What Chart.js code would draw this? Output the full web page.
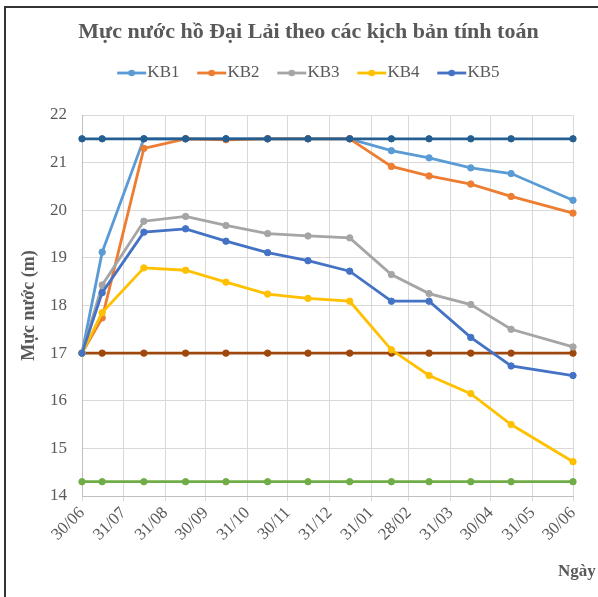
<!DOCTYPE html>
<html>
<head>
<meta charset="utf-8">
<script src="https://cdn.jsdelivr.net/npm/chart.js@4.4.1/dist/chart.umd.min.js"></script>
<style>
html,body{margin:0;padding:0;overflow:hidden;background:#fff;width:598px;height:597px;}
#frame{position:absolute;left:4px;top:6px;width:700px;height:700px;border:2px solid #333;box-sizing:border-box;}
#wrap{position:absolute;left:0;top:0;width:640px;height:620px;}
</style>
</head>
<body>
<div id="frame"></div>
<div id="wrap"><canvas id="c" width="640" height="620"></canvas></div>
<script>
// ---------- data ----------
const startDate = '2018-06-30';
const tickDates = ['2018-06-30','2018-07-31','2018-08-31','2018-09-30','2018-10-31','2018-11-30','2018-12-31','2019-01-31','2019-02-28','2019-03-31','2019-04-30','2019-05-31','2019-06-30'];
const tickLabels = ['30/06','31/07','31/08','30/09','31/10','30/11','31/12','31/01','28/02','31/03','30/04','31/05','30/06'];
const pointDates = ['2018-06-30','2018-07-15','2018-08-15','2018-09-15','2018-10-15','2018-11-15','2018-12-15','2019-01-15','2019-02-15','2019-03-15','2019-04-15','2019-05-15','2019-06-30'];
const seriesNames = ['KB1','KB2','KB3','KB4','KB5'];
const kb1 = [17, 19.12, 21.5, 21.5, 21.5, 21.5, 21.5, 21.5, 21.25, 21.1, 20.89, 20.77, 20.21];
const kb2 = [17, 17.74, 21.3, 21.5, 21.48, 21.5, 21.5, 21.5, 20.92, 20.72, 20.55, 20.29, 19.94];
const kb3 = [17, 18.43, 19.77, 19.87, 19.68, 19.51, 19.46, 19.42, 18.65, 18.25, 18.02, 17.5, 17.13];
const kb4 = [17, 17.85, 18.79, 18.74, 18.49, 18.24, 18.15, 18.09, 17.07, 16.53, 16.15, 15.5, 14.72];
const kb5 = [17, 18.27, 19.54, 19.61, 19.35, 19.11, 18.94, 18.72, 18.09, 18.09, 17.33, 16.73, 16.53];
const level215 = [21.5, 21.5, 21.5, 21.5, 21.5, 21.5, 21.5, 21.5, 21.5, 21.5, 21.5, 21.5, 21.5];
const level17 = [17, 17, 17, 17, 17, 17, 17, 17, 17, 17, 17, 17, 17];
const level143 = [14.3, 14.3, 14.3, 14.3, 14.3, 14.3, 14.3, 14.3, 14.3, 14.3, 14.3, 14.3, 14.3];
const yTicksMin = 14, yTicksMax = 22;

// ---------- styling ----------
const kbColors = ['#5B9BD5', '#ED7D31', '#A5A5A5', '#FFC000', '#4472C4'];
const FONT = '"Liberation Serif", "Times New Roman", serif';
const TXT = '#595959';

const dayOf = d => Math.round((Date.parse(d) - Date.parse(startDate)) / 86400000);
const tickDays = tickDates.map(dayOf);
const pts = vals => vals.map((v, i) => ({x: dayOf(pointDates[i]), y: v}));

function ds(label, vals, color, order) {
  return {
    label, data: pts(vals), borderColor: color, backgroundColor: color,
    borderWidth: 2.8, pointRadius: 3.2, pointBorderWidth: 1, pointBackgroundColor: color,
    pointBorderColor: color, tension: 0, order, clip: false
  };
}

function legendSymbol(color) {
  const c = document.createElement('canvas');
  c.width = 38; c.height = 10;
  const g = c.getContext('2d');
  g.strokeStyle = color; g.lineWidth = 2.8;
  g.beginPath(); g.moveTo(8, 5); g.lineTo(37, 5); g.stroke();
  g.fillStyle = color;
  g.beginPath(); g.arc(22.5, 5, 3.3, 0, Math.PI * 2); g.fill();
  return c;
}

const datasets = [
  ds(seriesNames[0], kb1, kbColors[0], 5),
  ds(seriesNames[1], kb2, kbColors[1], 4),
  ds(seriesNames[2], kb3, kbColors[2], 3),
  ds(seriesNames[3], kb4, kbColors[3], 2),
  ds(seriesNames[4], kb5, kbColors[4], 1),
  ds('21,5 m', level215, '#255E91', 0),
  ds('17 m', level17, '#9E480E', 7),
  ds('14,3 m', level143, '#70AD47', 6)
];

const xTitle = {
  id: 'xTitle',
  afterDraw(chart) {
    const {ctx, chartArea} = chart;
    ctx.save();
    ctx.font = 'bold 17px ' + FONT;
    ctx.fillStyle = TXT;
    ctx.textAlign = 'left';
    ctx.textBaseline = 'middle';
    ctx.fillText('Ngày', chartArea.right - 15, chartArea.bottom + 76);
    ctx.restore();
  }
};

new Chart(document.getElementById('c'), {
  type: 'line',
  data: {datasets},
  plugins: [xTitle],
  options: {
    responsive: false, animation: false, devicePixelRatio: 1,
    layout: {padding: {top: 0, left: 15, right: 38, bottom: 44}},
    plugins: {
      tooltip: {enabled: false},
      title: {
        display: true, text: 'Mực nước hồ Đại Lải theo các kịch bản tính toán',
        color: TXT, font: {family: FONT, size: 22, weight: 'bold'},
        padding: {top: 19, bottom: 1.1}
      },
      subtitle: {display: true, text: '', weight: 500, font: {size: 1}, padding: {top: 22.3, bottom: 0}},
      legend: {
        display: true, position: 'top',
        labels: {
          usePointStyle: true, pointStyleWidth: 21.4, padding: 18,
          color: TXT, font: {family: FONT, size: 17},
          generateLabels: () => seriesNames.map((n, i) => ({
            text: n, fillStyle: kbColors[i], strokeStyle: kbColors[i], lineWidth: 0,
            pointStyle: legendSymbol(kbColors[i]), datasetIndex: i, hidden: false, fontColor: TXT
          }))
        }
      }
    },
    scales: {
      x: {
        type: 'linear', min: tickDays[0], max: tickDays[tickDays.length - 1],
        afterBuildTicks: s => { s.ticks = tickDays.map(v => ({value: v})); },
        afterFit: s => { s.height = 80; },
        ticks: {
          autoSkip: false, maxRotation: 45, minRotation: 45, padding: 2,
          color: TXT, font: {family: FONT, size: 17},
          callback: (v, i) => tickLabels[i]
        },
        grid: {color: '#D9D9D9', lineWidth: 1, drawTicks: true, tickLength: 5},
        border: {color: '#BFBFBF', width: 1}
      },
      y: {
        min: yTicksMin, max: yTicksMax,
        afterFit: s => { s.width = 67; },
        ticks: {stepSize: 1, padding: 15, color: TXT, font: {family: FONT, size: 17}},
        grid: {color: '#D9D9D9', lineWidth: 1, drawTicks: false},
        border: {color: '#BFBFBF', width: 1},
        title: {display: true, text: 'Mực nước (m)', color: TXT, font: {family: FONT, size: 18, weight: 'bold'}}
      },
      yRight: {
        position: 'right', display: true, min: yTicksMin, max: yTicksMax,
        afterFit: s => { s.width = 29; },
        ticks: {display: false}, grid: {display: false, drawTicks: false}, border: {display: false}
      }
    }
  }
});
</script>
</body>
</html>
